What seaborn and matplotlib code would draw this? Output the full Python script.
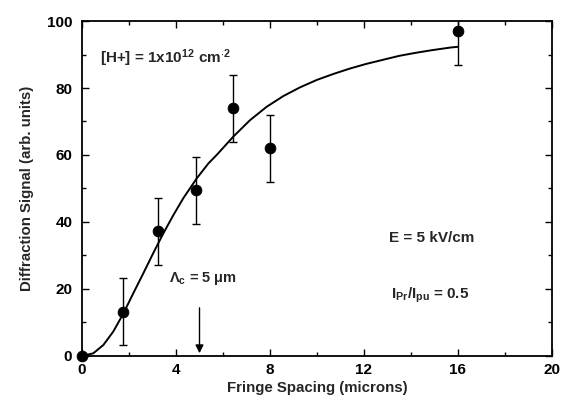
import matplotlib
matplotlib.use("Agg")
import matplotlib.pyplot as plt
import seaborn as sns
import pandas as pd
from matplotlib.ticker import MultipleLocator

# Measured data
spacing = [0.0, 1.73, 3.25, 4.85, 6.43, 8.0, 16.0]
signal = [0.0, 13.2, 37.3, 49.4, 74.0, 62.0, 97.0]
err = [0.0, 10.0, 10.0, 10.0, 10.0, 10.0, 10.0]

# Fit curve
curve_x = [0.0, 0.48, 0.91, 1.33, 1.76, 2.18, 2.61, 3.03, 3.46, 3.89, 4.31, 4.88,
           5.38, 5.73, 6.44, 7.15, 7.86, 8.57, 9.28, 9.99, 10.7, 11.4, 12.1,
           12.8, 13.5, 14.2, 14.9, 15.7, 16.0]
curve_y = [0.0, 0.8, 3.3, 7.3, 12.7, 18.7, 24.7, 30.7, 36.6, 42.1, 47.1, 53.0,
           57.5, 60.0, 65.5, 70.4, 74.4, 77.6, 80.2, 82.4, 84.2, 85.8, 87.2,
           88.4, 89.6, 90.5, 91.3, 92.1, 92.3]

x_ticks = [0, 4, 8, 12, 16, 20]
y_ticks = [0, 20, 40, 60, 80, 100]

sns.set_theme(style="ticks")
plt.rcParams['font.family'] = ['Liberation Sans', 'DejaVu Sans']
plt.rcParams['font.weight'] = 'bold'
plt.rcParams['mathtext.fontset'] = 'custom'
plt.rcParams['mathtext.rm'] = 'Liberation Sans:bold'
plt.rcParams['mathtext.bf'] = 'Liberation Sans:bold'
plt.rcParams['mathtext.it'] = 'Liberation Sans:bold'
plt.rcParams['mathtext.default'] = 'bf'

fig = plt.figure(figsize=(5.62, 4.12), dpi=100)
ax = fig.add_axes([0.146, 0.136, 0.836, 0.813])

df_pts = pd.DataFrame({"x": spacing, "y": signal})
df_curve = pd.DataFrame({"x": curve_x, "y": curve_y})

sns.lineplot(data=df_curve, x="x", y="y", ax=ax, color="black", lw=1.4, sort=False)
ax.errorbar(spacing[1:], signal[1:], yerr=err[1:], fmt="none", ecolor="black",
            elinewidth=1.0, capsize=3, capthick=1.0, clip_on=True)
sns.scatterplot(data=df_pts, x="x", y="y", ax=ax, color="black", s=60,
                edgecolor="black", zorder=5, clip_on=False)

ax.set_xlim(0, 20)
ax.set_ylim(0, 100)
ax.set_xticks(x_ticks)
ax.set_yticks(y_ticks)
ax.xaxis.set_minor_locator(MultipleLocator(2))
ax.yaxis.set_minor_locator(MultipleLocator(10))
ax.tick_params(which="both", direction="in", top=True, right=True, width=1,
               labelsize=11, colors="black")
ax.tick_params(which="major", length=5)
ax.tick_params(which="minor", length=3)
ax.tick_params(axis="y", which="major", pad=7)
ax.tick_params(axis="x", which="major", pad=5)
for lab in ax.get_xticklabels() + ax.get_yticklabels():
    lab.set_fontweight("bold")
for sp in ax.spines.values():
    sp.set_linewidth(1.3)
    sp.set_color("black")

ax.set_xlabel("Fringe Spacing (microns)", fontsize=10.8, fontweight="bold", labelpad=3)
ax.set_ylabel("Diffraction Signal (arb. units)", fontsize=10.8, fontweight="bold", labelpad=9)

ax.text(0.75, 89, r"[H+] = 1x10$^{12}$ cm$^{\cdot 2}$", fontsize=11,
        fontweight="bold", va="center", ha="left")
ax.text(14.9, 35.2, "E = 5 kV/cm", fontsize=11, fontweight="bold", va="center", ha="center")
ax.text(14.8, 18, r"I$_{Pr}$/I$_{pu}$ = 0.5", fontsize=11,
        fontweight="bold", va="center", ha="center")
ax.text(5.15, 23.0, r"Λ$_{c}$ = 5 μm", fontsize=10.5, fontweight="bold", va="center",
        ha="center")
ax.annotate("", xy=(5.0, 0), xytext=(5.0, 15.2),
            arrowprops=dict(arrowstyle="-|>", color="black", lw=1.0, mutation_scale=12))

fig.savefig("out.png", dpi=100)
